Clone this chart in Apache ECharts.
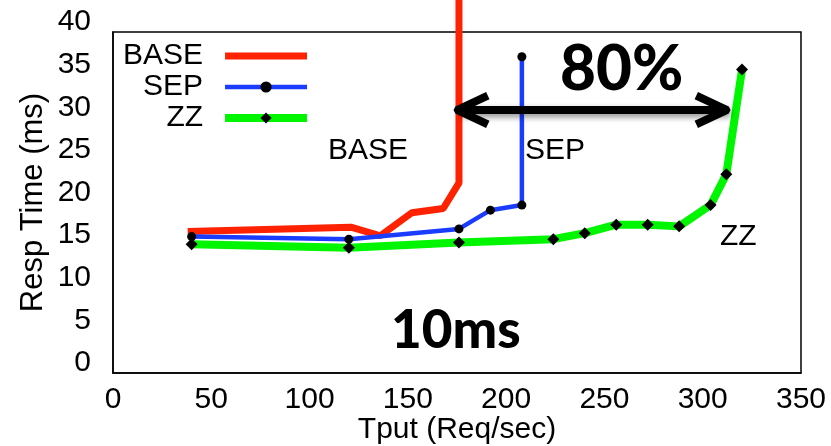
<!DOCTYPE html>
<html>
<head>
<meta charset="utf-8">
<script src="https://cdn.jsdelivr.net/npm/echarts@6/dist/echarts.min.js"></script>
<style>
  html, body { margin: 0; padding: 0; background: #fff; }
  #main { width: 831px; height: 446px; }
</style>
</head>
<body>
<div id="main"></div>
<script>
// throughput (req/sec) vs response time (ms)
const baseX = [38, 121, 136, 152, 168, 176, 176]
const baseY = [16.6, 17.1, 16.1, 18.8, 19.3, 22.3, 43.8]
const sepX = [40, 120, 176, 192, 208, 208]
const sepY = [16.0, 15.7, 16.9, 19.1, 19.7, 37.1]
const zzX = [40, 120, 176, 224, 240, 256, 272, 288, 304, 312, 320]
const zzY = [15.1, 14.7, 15.3, 15.7, 16.4, 17.4, 17.4, 17.2, 19.7, 23.3, 35.6]
const arrowX = [175, 312.4]
const arrowY = 30.85

const pair = (xs, ys) => xs.map((x, i) => [x, ys[i]])
const font = 'Liberation Sans'

// open chevron, tip at the centre of its box so it sits on the line end
const chevron = 'path://M14.5,-3.5 L18.1,-1.7 L32.6,29.3 L25.4,32.7 L14.5,9.4 L3.6,32.7 L-3.6,29.3 L10.9,-1.7 Z' +
  ' M14.5,-32.7 L14.6,-32.7 L14.6,-32.6 Z'

const chartDom = document.getElementById('main')
const myChart = echarts.init(chartDom)
const option = {
  animation: false,
  textStyle: { fontFamily: font },
  grid: {
    left: 113, right: 30, top: 32, bottom: 73,
    outerBoundsMode: 'none',
    show: true, borderColor: '#000', borderWidth: 1.5,
  },
  legend: {
    orient: 'vertical',
    left: 123, top: 41, padding: 0,
    align: 'right',
    itemWidth: 82, itemHeight: 14, itemGap: 1,
    lineStyle: { width: 'inherit' },
    textStyle: { fontFamily: font, fontSize: 30, color: '#000', padding: [0, 17, 0, 0] },
    data: [
      { name: 'BASE', icon: 'path://M0,0 H82 V7 H0 Z' },
      'SEP',
      'ZZ',
    ],
  },
  xAxis: {
    type: 'value', min: 0, max: 350, interval: 50,
    name: 'Tput (Req/sec)', nameLocation: 'middle', nameGap: 42, nameMoveOverlap: false,
    nameTextStyle: { fontFamily: font, fontSize: 30, color: '#000' },
    axisLine: { show: true, lineStyle: { color: '#000', width: 1.5 } },
    axisTick: { show: false },
    splitLine: { show: false },
    axisLabel: { fontFamily: font, fontSize: 30, color: '#000', margin: 12 },
  },
  yAxis: {
    type: 'value', min: 0, max: 40, interval: 5,
    name: 'Resp Time (ms)', nameLocation: 'middle', nameGap: 64, nameRotate: 90, nameMoveOverlap: false,
    nameTextStyle: { fontFamily: font, fontSize: 31, color: '#000' },
    axisLine: { show: true, lineStyle: { color: '#000', width: 1.5 } },
    axisTick: { show: false },
    splitLine: { show: false },
    axisLabel: {
      fontFamily: font, fontSize: 30, color: '#000', margin: 22,
      verticalAlign: 'bottom', lineHeight: 20,
    },
  },
  series: [
    {
      name: 'BASE', type: 'line', clip: false,
      symbol: 'none',
      lineStyle: { color: '#ff2200', width: 7 },
      itemStyle: { color: '#ff2200' },
      data: pair(baseX, baseY),
      z: 2,
    },
    {
      name: 'SEP', type: 'line',
      symbol: 'circle', symbolSize: 9,
      lineStyle: { color: '#1a3cff', width: 4.5 },
      itemStyle: { color: '#000' },
      data: pair(sepX, sepY),
      z: 3,
    },
    {
      name: 'ZZ', type: 'line',
      symbol: 'diamond', symbolSize: 12,
      lineStyle: { color: '#00f500', width: 8 },
      itemStyle: { color: '#000' },
      data: pair(zzX, zzY),
      z: 1,
      markLine: {
        silent: true,
        symbol: [chevron, chevron],
        symbolSize: [36, 65],
        label: { show: false },
        lineStyle: {
          color: '#000', width: 8, type: 'solid',
          shadowBlur: 6, shadowColor: 'rgba(0,0,0,0.45)', shadowOffsetX: 3, shadowOffsetY: 3,
        },
        itemStyle: {
          color: '#000',
          shadowBlur: 6, shadowColor: 'rgba(0,0,0,0.45)', shadowOffsetX: 3, shadowOffsetY: 3,
        },
        data: [[{ coord: [arrowX[0], arrowY] }, { coord: [arrowX[1], arrowY] }]],
      },
    },
  ],
  graphic: [
    { type: 'text', left: 328, top: 136, style: { text: 'BASE', fontFamily: font, fontSize: 30, fill: '#000' } },
    { type: 'text', left: 525, top: 136, style: { text: 'SEP', fontFamily: font, fontSize: 30, fill: '#000' } },
    { type: 'text', left: 720, top: 222, style: { text: 'ZZ', fontFamily: font, fontSize: 30, fill: '#000' } },
    { type: 'text', left: 560, top: 39, style: { text: '80%', fontFamily: 'Lato', fontWeight: 900, fontSize: 62, fill: '#000' } },
    { type: 'text', left: 391, top: 304, style: { text: '10ms', fontFamily: 'Lato', fontWeight: 900, fontSize: 53, fill: '#000' } },
  ],
}
option && myChart.setOption(option)
</script>
</body>
</html>
